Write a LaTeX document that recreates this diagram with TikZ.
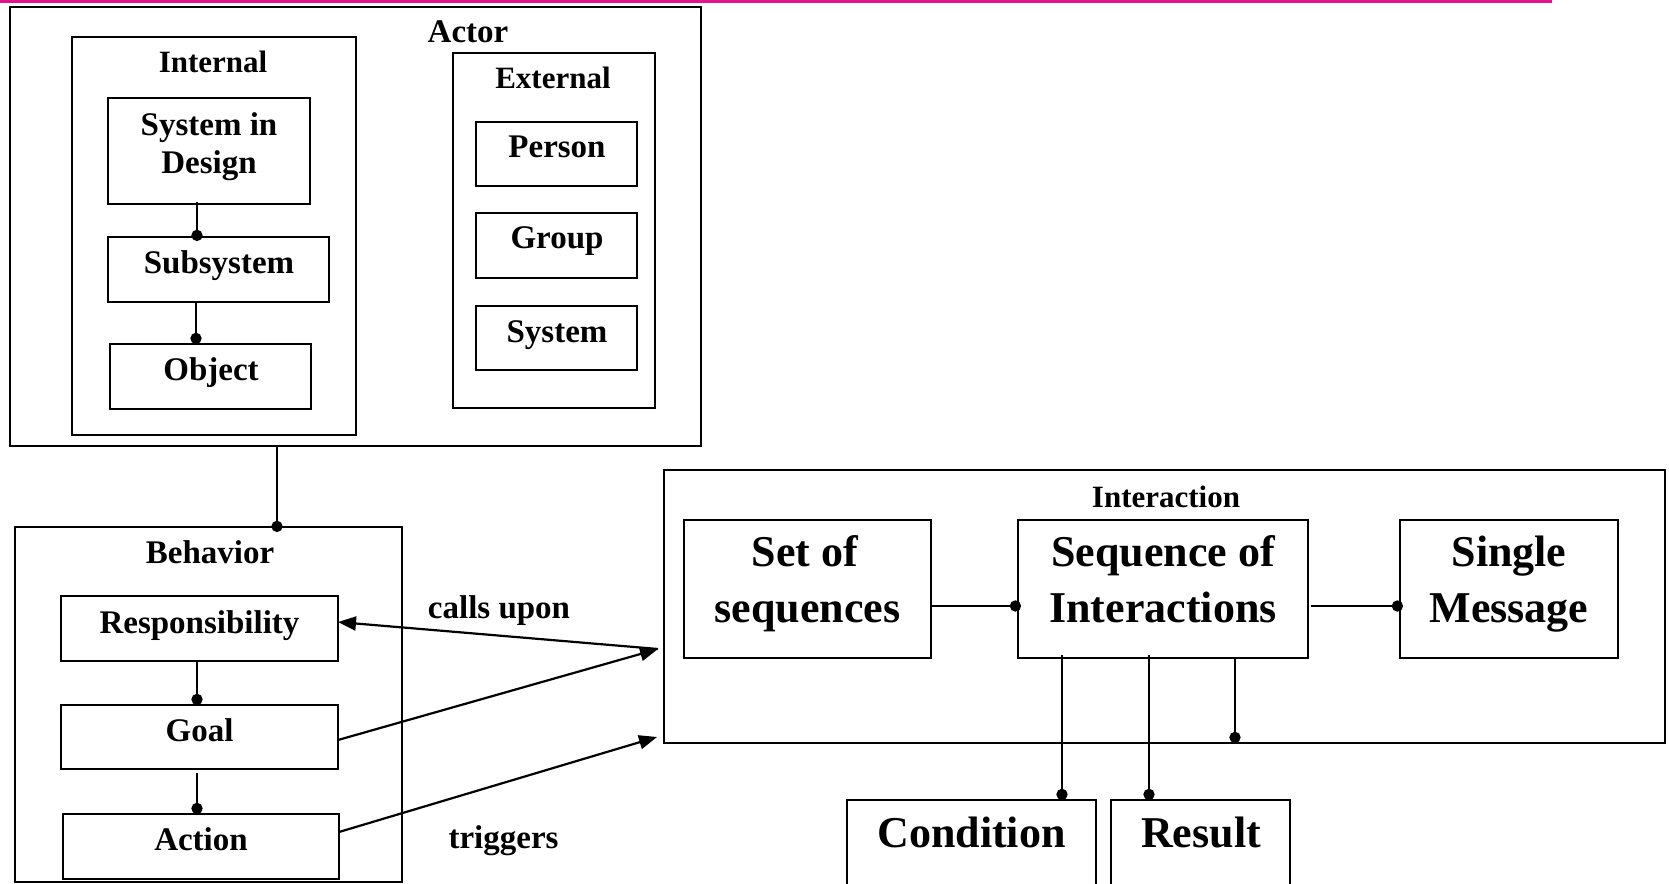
\documentclass[tikz,border=0pt]{standalone}
\usepackage{fontspec}
\setmainfont{Liberation Serif}
\usetikzlibrary{fit,arrows.meta,calc}
\definecolor{rulepink}{RGB}{228,18,140}
\begin{document}
\begin{tikzpicture}[x=0.5pt,y=-0.5pt,
  box/.style={draw, line width=1.1pt, inner sep=0pt, outer sep=0pt, fit={#1}},
  lbl/.style={anchor=base, inner sep=0pt, font=\bfseries\fontsize{16.5}{19}\selectfont},
  head/.style={anchor=base, inner sep=0pt, font=\bfseries\fontsize{15.5}{18}\selectfont},
  big/.style={anchor=base, inner sep=0pt, font=\bfseries\fontsize{22}{28}\selectfont},
  dotlink/.style={line width=1.1pt, -{Circle[length=5.6pt]}},
  arr/.style={line width=1.1pt, -{Triangle[length=9pt,width=7pt]}},
]
\clip (0,0) rectangle (1669,883);
\fill[white] (0,0) rectangle (1669,883);

% top rule
\fill[rulepink] (0,0) rectangle (1552,3);

% ---------- Actor ----------
\node[box={(10,7)(701,446)}] (actor) {};
\node[lbl] (actor-t) at (468,43) {Actor};

\node[box={(72,37)(356,435)}] (internal) {};
\node[head] (internal-t) at (213,73) {Internal};
\node[box={(108,98)(310,204)}] (sid) {};
\node[lbl] (sid-t1) at (209,135) {System in};
\node[lbl] (sid-t2) at (209,173) {Design};
\node[box={(108,237)(329,302)}] (sub) {};
\node[lbl] (sub-t) at (219,273) {Subsystem};
\node[box={(110,344)(311,409)}] (obj) {};
\node[lbl] (obj-t) at (211,380) {Object};

\node[box={(453,53)(655,408)}] (external) {};
\node[head] (external-t) at (553,89) {External};
\node[box={(476,122)(637,186)}] (person) {};
\node[lbl] (person-t) at (557,157) {Person};
\node[box={(476,213)(637,278)}] (group) {};
\node[lbl] (group-t) at (557,248) {Group};
\node[box={(476,306)(637,370)}] (system) {};
\node[lbl] (system-t) at (557,342) {System};

% ---------- Behavior ----------
\node[box={(15,527)(402,882)}] (beh) {};
\node[lbl] (beh-t) at (210,563) {Behavior};
\node[box={(61,596)(338,661)}] (resp) {};
\node[lbl] (resp-t) at (199.5,633) {Responsibility};
\node[box={(61,705)(338,769)}] (goal) {};
\node[lbl] (goal-t) at (199.5,741) {Goal};
\node[box={(63,814)(339,879)}] (act) {};
\node[lbl] (act-t) at (201,850) {Action};

% ---------- Interaction ----------
\node[box={(664,470)(1665,743)}] (inter) {};
\node[head] (inter-t) at (1166,507) {Interaction};
\node[box={(684,520)(931,658)}] (set) {};
\node[big] (set-t1) at (805,566) {Set of};
\node[big] (set-t2) at (807.5,622) {sequences};
\node[box={(1018,520)(1308,658)}] (seq) {};
\node[big] (seq-t1) at (1163,566) {Sequence of};
\node[big] (seq-t2) at (1163,622) {Interactions};
\node[box={(1400,520)(1618,658)}] (single) {};
\node[big] (single-t1) at (1509,566) {Single};
\node[big] (single-t2) at (1509,622) {Message};

\node[box={(847,800)(1096,920)}] (cond) {};
\node[big] (cond-t) at (971.5,847) {Condition};
\node[box={(1111,800)(1290,920)}] (res) {};
\node[big] (res-t) at (1201,847) {Result};

% ---------- links with dot ends ----------
\draw[dotlink] ($(sid.south west)+(89,-2)$) coordinate (l1) -- ($(l1 |- sub.north)+(0,4)$);
\draw[dotlink] ($(sub.south west)+(88,0)$) coordinate (l2) -- (l2 |- obj.north);
\draw[dotlink] ($(actor.south west)+(267,0)$) coordinate (l3) -- ($(l3 |- beh.north)+(0,5)$);
\draw[dotlink] ($(resp.south west)+(136,0)$) coordinate (l4) -- (l4 |- goal.north);
\draw[dotlink] ($(goal.south west)+(136,4)$) coordinate (l5) -- (l5 |- act.north);
\draw[dotlink] ($(set.north east)+(0,86)$) coordinate (l6) -- ($(l6 -| seq.west)+(3,0)$);
\draw[dotlink] ($(seq.north east)+(3,86)$) coordinate (l7) -- ($(l7 -| single.west)+(3,0)$);
\draw[dotlink] ($(seq.south west)+(44,-3)$) coordinate (l8) -- (l8 |- cond.north);
\draw[dotlink] ($(seq.south west)+(131,-3)$) coordinate (l9) -- (l9 |- res.north);
\draw[dotlink] ($(seq.south west)+(217,0)$) coordinate (l10) -- (l10 |- inter.south);

% ---------- arrows between Behavior and Interaction ----------
\coordinate (hubA) at ($(inter.north west)+(-6,179)$);
\coordinate (hubB) at ($(inter.north west)+(-7,267)$);
\draw[arr] (hubA) -- ($(resp.north east)+(0,26)$);
\draw[arr] ($(goal.north east)+(0,35)$) -- (hubA);
\draw[arr] ($(act.north east)+(0,18)$) -- (hubB);
\node[lbl] (calls-t) at (499,618) {calls upon};
\node[lbl] (trig-t) at (503.5,848) {triggers};
\end{tikzpicture}
\end{document}
